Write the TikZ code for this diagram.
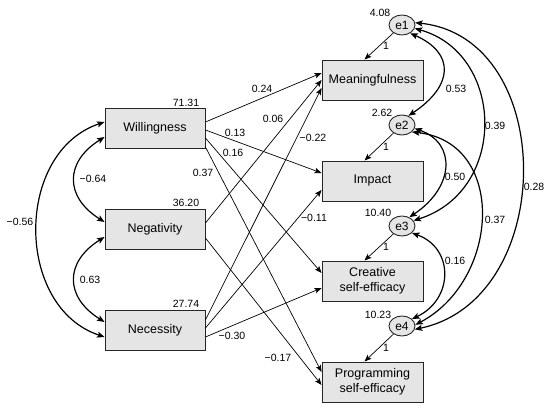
\documentclass[tikz,border=0pt]{standalone}
\usepackage{fontspec}
\setmainfont{Liberation Sans}
\usetikzlibrary{arrows.meta,shapes.geometric}
\begin{document}
\begin{tikzpicture}[x=1pt,y=-1pt,
  box/.style={draw=black!85,line width=0.9pt,fill=black!10,minimum width=100pt,minimum height=40pt,inner sep=0pt,align=center,font=\fontsize{12.5}{15}\selectfont},
  err/.style={draw=black!85,line width=0.9pt,fill=black!10,ellipse,minimum width=26pt,minimum height=20pt,inner sep=0pt,font=\fontsize{12}{14}\selectfont},
  lab/.style={font=\fontsize{10.5}{12}\selectfont,inner sep=0pt},
  pth/.style={line width=0.7pt,-{Stealth[length=7pt,width=5.5pt,inset=1.5pt]}},
  cov/.style={line width=1.2pt,{Stealth[length=7.5pt,width=6pt,inset=1.5pt]}-{Stealth[length=7.5pt,width=6pt,inset=1.5pt]}}
]
\useasboundingbox (0,0) rectangle (550,411);
% left boxes
\node[box] (W) at (155,128.5) {Willingness};
\node[box] (N) at (155,229.5) {Negativity};
\node[box] (C) at (155,330) {Necessity};
% right boxes
\node[box,minimum width=101pt] (M) at (372.5,80) {Meaningfulness};
\node[box,minimum width=101pt] (I) at (372.5,181) {Impact};
\node[box,minimum width=101pt] (S) at (372.5,281) {Creative\\self-efficacy};
\node[box,minimum width=101pt] (P) at (372.5,382) {Programming\\self-efficacy};
% errors
\node[err] (e1) at (402,25) {e1};
\node[err] (e2) at (402,125) {e2};
\node[err] (e3) at (402,226) {e3};
\node[err] (e4) at (402,326) {e4};
% variance labels
\node[lab] at (186,103) {71.31};
\node[lab] at (186,203) {36.20};
\node[lab] at (186,304) {27.74};
\node[lab] at (380,13) {4.08};
\node[lab] at (382,113) {2.62};
\node[lab] at (378,213) {10.40};
\node[lab] at (378,315) {10.23};
% error arrows
\draw[pth] (e1) -- ([xshift=-8pt]M.north);
\draw[pth] (e2) -- ([xshift=-8pt]I.north);
\draw[pth] (e3) -- ([xshift=-8pt]S.north);
\draw[pth] (e4) -- ([xshift=-8pt]P.north);
\node[lab] at (386,46) {1};
\node[lab] at (386,147) {1};
\node[lab] at (386,247) {1};
\node[lab] at (386,348) {1};
% paths
\draw[pth] ([yshift=6.5pt]W.east) -- ([yshift=7pt]M.west);
\draw[pth] ([yshift=6.5pt]N.east) -- (M.west);
\draw[pth] ([yshift=10pt]C.east) -- ([yshift=-8pt]M.west);
\draw[pth] ([yshift=-1.5pt]W.east) -- ([yshift=8pt]I.west);
\draw[pth] ([yshift=2pt]C.east) -- ([yshift=-9pt]I.west);
\draw[pth] ([yshift=-9.5pt]W.east) -- ([yshift=8pt]S.west);
\draw[pth] ([yshift=-7pt]C.east) -- ([yshift=-7pt]S.west);
\draw[pth] ([yshift=-18.5pt]W.east) -- ([yshift=10pt]P.west);
\draw[pth] ([yshift=-8.5pt]N.east) -- ([yshift=-3pt]P.west);
% path labels
\node[lab] at (262,89) {0.24};
\node[lab] at (273,119) {0.06};
\node[lab] at (313,138) {−0.22};
\node[lab] at (235,133) {0.13};
\node[lab] at (233,153) {0.16};
\node[lab] at (203,173) {0.37};
\node[lab] at (314,218) {−0.11};
\node[lab] at (232,336) {−0.30};
\node[lab] at (278,358) {−0.17};
% left covariances
\draw[cov] ([yshift=-8.5pt]W.west) .. controls +(-40,25) and +(-40,-25) .. ([yshift=7.5pt]N.west);
\draw[cov] ([yshift=-7.5pt]N.west) .. controls +(-40,25) and +(-40,-25) .. ([yshift=8pt]C.west);
\draw[cov] ([yshift=6.5pt]W.west) .. controls +(-90,30) and +(-90,-30) .. ([yshift=-7pt]C.west);
\node[lab] at (93,179) {−0.64};
\node[lab] at (90,280) {0.63};
\node[lab] at (20,222) {−0.56};
% right covariances
\draw[cov] (e1.-45) .. controls +(45,20) and +(45,-30) .. (e2.55);
\draw[cov] (e1.-15) .. controls +(90,25) and +(95,-30) .. (e3.25);
\draw[cov] (e1.10) .. controls +(143,15) and +(143,-30) .. (e4.-15);
\draw[cov] (e2.-15) .. controls +(42,15) and +(45,-30) .. (e3.50);
\draw[cov] (e2.-35) .. controls +(95,10) and +(85,-45) .. (e4.5);
\draw[cov] (e3.-35) .. controls +(42,15) and +(42,-20) .. (e4.35);
\node[lab] at (456,89) {0.53};
\node[lab] at (495,126) {0.39};
\node[lab] at (534,187) {0.28};
\node[lab] at (455,177) {0.50};
\node[lab] at (495,220) {0.37};
\node[lab] at (455,261) {0.16};
\end{tikzpicture}
\end{document}
